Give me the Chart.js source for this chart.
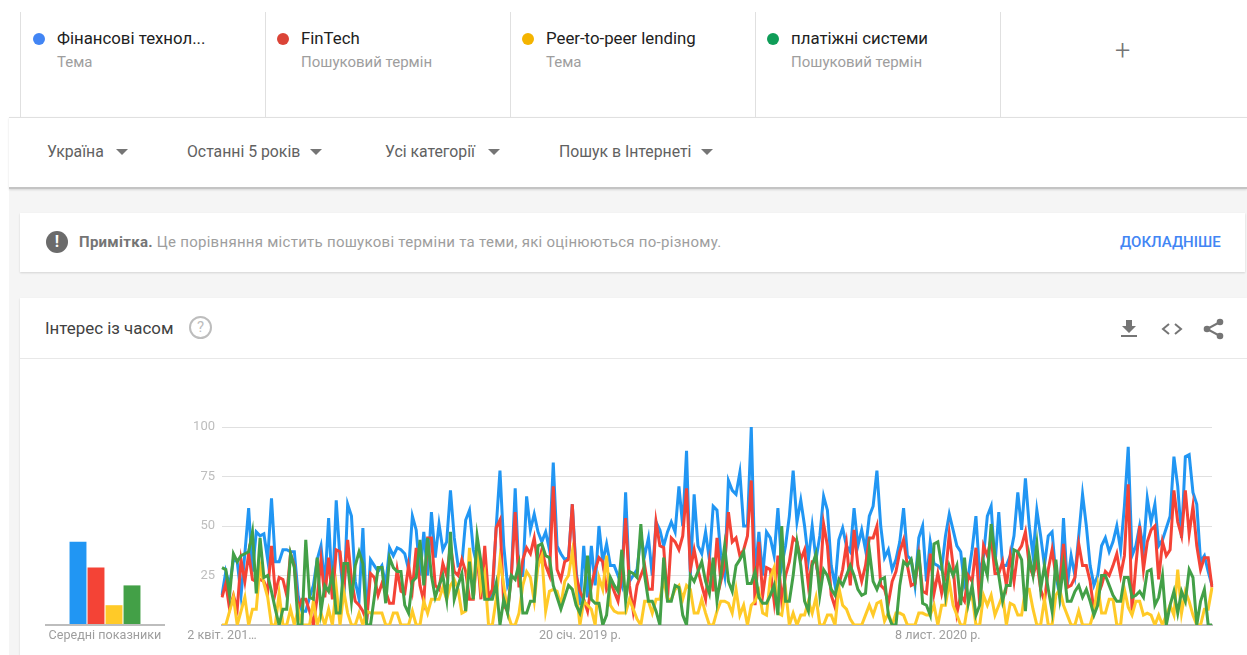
<!DOCTYPE html>
<html lang="uk">
<head>
<meta charset="utf-8">
<title>Інтерес із часом</title>
<script src="https://cdn.jsdelivr.net/npm/chart.js@4"></script>
<style>
    html, body { margin: 0; padding: 0; background: #fff; }
    body { width: 1247px; height: 655px; position: relative; overflow: hidden; font-family: Roboto, sans-serif; }
    .abs { position: absolute; white-space: nowrap; }
    #grey { left: 9px; top: 187px; width: 1238px; height: 468px; background: #f5f5f5; }
    #filterBar { left: 9px; top: 117px; width: 1238px; height: 69px; background: #fff; border-top: 1px solid #e0e0e0; border-bottom: 2px solid #c4c4c4; box-shadow: 0 1px 2px rgba(0,0,0,.12); }
    .sep { top: 12px; width: 1px; height: 105px; background: #e0e0e0; }
    .dot { width: 12px; height: 12px; border-radius: 50%; top: 33px; }
    .term { top: 28px; font-size: 16.8px; line-height: 20px; color: #212121; }
    .kind { top: 54px; font-size: 15px; line-height: 17px; color: #9e9e9e; }
    .filter { top: 143px; font-size: 15.8px; line-height: 18px; color: #616161; }
    .tri { top: 149px; width: 0; height: 0; border-left: 6px solid transparent; border-right: 6px solid transparent; border-top: 6px solid #757575; }
    .card { background: #fff; box-shadow: 0 1px 2px rgba(0,0,0,.14); }
    canvas { position: absolute; display: block; }
</style>
</head>
<body>
<div class="abs" id="grey"></div>
<div class="abs" id="filterBar"></div>

<div class="abs sep" style="left:20px"></div>
<div class="abs sep" style="left:265px"></div>
<div class="abs sep" style="left:510px"></div>
<div class="abs sep" style="left:755px"></div>
<div class="abs sep" style="left:1000px"></div>

<div class="abs dot" style="left:33px;background:#4285f4"></div>
<div class="abs term" style="left:57px">Фінансові технол...</div>
<div class="abs kind" style="left:57px">Тема</div>
<div class="abs dot" style="left:277px;background:#db4437"></div>
<div class="abs term" style="left:301px">FinTech</div>
<div class="abs kind" style="left:301px">Пошуковий термін</div>
<div class="abs dot" style="left:522px;background:#f4b400"></div>
<div class="abs term" style="left:546px">Peer-to-peer lending</div>
<div class="abs kind" style="left:546px">Тема</div>
<div class="abs dot" style="left:767px;background:#0f9d58"></div>
<div class="abs term" style="left:791px">платіжні системи</div>
<div class="abs kind" style="left:791px">Пошуковий термін</div>
<div class="abs" style="left:1115px;top:37px;font-size:27px;line-height:28px;font-weight:300;color:#757575">+</div>

<div class="abs filter" style="left:47px">Україна</div><div class="abs tri" style="left:116px"></div>
<div class="abs filter" style="left:187px">Останні 5 років</div><div class="abs tri" style="left:310px"></div>
<div class="abs filter" style="left:385px">Усі категорії</div><div class="abs tri" style="left:488px"></div>
<div class="abs filter" style="left:559px">Пошук в Інтернеті</div><div class="abs tri" style="left:701px"></div>

<div class="abs card" style="left:20px;top:213px;width:1225px;height:59px"></div>
<div class="abs" style="left:46px;top:231px;width:22px;height:22px;border-radius:50%;background:#6b6b6b;color:#fff;font-size:16px;font-weight:700;line-height:22px;text-align:center">!</div>
<div class="abs" style="left:79px;top:233px;font-size:15px;line-height:18px;color:#9e9e9e;letter-spacing:.27px"><b style="color:#757575">Примітка.</b> Це порівняння містить пошукові терміни та теми, які оцінюються по-різному.</div>
<div class="abs" style="left:1120px;top:233px;font-size:15px;line-height:18px;font-weight:500;color:#4285f4">ДОКЛАДНІШЕ</div>

<div class="abs card" style="left:20px;top:298px;width:1227px;height:357px"></div>
<div class="abs" style="left:20px;top:358px;width:1227px;height:1px;background:#e8e8e8"></div>
<div class="abs" style="left:45px;top:318px;font-size:16.9px;line-height:20px;color:#424242">Інтерес із часом</div>
<div class="abs" style="left:189px;top:316px;width:19px;height:19px;border:2px solid #bdbdbd;border-radius:50%;color:#bdbdbd;font-size:15px;line-height:19px;text-align:center">?</div>
<svg class="abs" style="left:1117px;top:317px" width="24" height="24" viewBox="0 0 24 24"><path fill="#757575" d="M19 9h-4V3H9v6H5l7 7 7-7zM4 18v2h16v-2H4z"/></svg>
<svg class="abs" style="left:1160px;top:317px" width="24" height="24" viewBox="0 0 24 24"><path fill="none" stroke="#757575" stroke-width="2" d="M9 7l-6 5 6 5M15 7l6 5-6 5"/></svg>
<svg class="abs" style="left:1202px;top:317px" width="24" height="24" viewBox="0 0 24 24"><path fill="none" stroke="#757575" stroke-width="2" d="M18 5L5 12l13 7"/><circle cx="18" cy="5" r="3.3" fill="#757575"/><circle cx="5" cy="12" r="3.3" fill="#757575"/><circle cx="18" cy="19" r="3.3" fill="#757575"/></svg>

<canvas id="avgChart" width="120" height="245" style="left:45px;top:410px"></canvas>
<div class="abs" style="left:45px;top:624px;width:120px;height:2px;background:#bdbdbd"></div>
<div class="abs" style="left:45px;top:627px;width:120px;text-align:center;font-size:12.6px;line-height:16px;color:#9e9e9e">Середні показники</div>
<canvas id="trendChart" width="1070" height="245" style="left:160px;top:410px"></canvas>

<script>
// weekly values, 2 Apr 2017 onwards
const fintechTopic = [
    15,27,20,33,32,15,36,59,27,47,
    45,46,33,64,32,32,38,38,37,37,
    15,7,7,14,20,33,40,20,54,15,
    63,33,13,61,55,22,13,49,3,33,
    30,27,30,20,39,35,39,38,36,28,
    55,48,25,47,25,57,34,51,38,42,
    68,44,30,31,53,58,38,30,22,18,
    14,14,49,78,40,20,25,69,25,25,
    65,48,56,47,42,47,38,82,40,36,
    33,34,61,28,10,40,14,40,20,50,
    32,41,30,30,25,20,67,22,25,28,
    45,35,44,25,52,48,40,47,52,47,
    70,50,88,25,66,40,36,47,33,60,
    58,35,25,73,68,66,77,50,50,100,
    25,47,25,47,44,35,59,30,40,55,
    78,52,63,50,33,50,33,45,65,58,
    30,20,43,49,40,37,59,40,48,38,
    55,60,78,50,34,38,28,33,42,59,
    35,33,20,44,50,22,42,31,30,28,
    45,56,48,40,37,20,25,38,55,25,
    35,55,60,30,57,30,30,35,45,67,
    48,74,50,35,58,45,30,45,47,25,
    15,54,20,35,25,45,66,50,30,20,
    25,40,44,37,42,50,38,60,90,35,
    40,50,38,64,52,61,40,43,49,55,
    85,70,44,85,86,67,61,32,35,27,
    20
];
const fintechTerm = [
    14,21,8,15,8,33,22,36,23,22,
    23,22,17,40,16,24,23,15,36,30,
    8,13,13,7,0,14,33,14,34,13,
    38,37,18,43,23,12,10,7,2,26,
    24,15,21,17,11,11,28,17,16,30,
    18,39,20,12,44,44,20,18,31,25,
    40,27,25,33,27,13,13,37,13,40,
    14,18,49,53,10,7,25,57,19,33,
    39,36,44,30,38,30,25,70,28,23,
    32,33,61,25,17,13,7,20,28,34,
    32,18,22,17,12,25,54,20,7,20,
    25,30,18,18,52,40,39,13,44,42,
    38,45,69,28,38,28,20,13,32,17,
    44,22,30,57,42,44,35,38,45,73,
    10,42,15,29,28,12,35,12,25,32,
    44,42,33,38,20,32,32,20,51,40,
    15,9,20,28,41,20,48,30,22,30,
    44,44,50,20,18,11,22,27,37,43,
    30,20,21,35,17,16,36,16,26,16,
    25,46,30,6,15,12,25,22,39,10,
    40,35,44,26,26,32,20,35,22,37,
    40,47,30,25,32,18,12,28,38,25,
    20,41,19,20,24,41,30,30,22,7,
    15,20,27,25,30,36,25,35,71,7,
    30,50,28,42,48,50,23,42,35,38,
    68,52,45,68,46,60,40,28,34,34,
    19
];
const p2pLending = [
    0,0,7,14,0,7,14,0,8,8,
    30,21,14,0,0,16,0,0,8,0,
    8,0,0,0,12,0,6,0,8,0,
    19,0,17,6,0,0,6,0,7,6,
    6,6,6,0,0,6,6,0,0,0,
    7,0,0,12,6,13,13,13,19,13,
    20,23,18,6,7,39,13,39,18,26,
    0,0,13,33,20,6,0,0,6,20,
    27,24,12,30,35,7,17,18,17,10,
    22,25,37,18,0,12,10,8,0,24,
    18,35,10,7,6,6,6,13,8,3,
    0,12,12,6,13,13,23,13,13,18,
    20,13,20,18,6,6,13,6,0,0,
    7,12,12,11,6,18,5,10,0,10,
    12,17,6,5,24,29,6,5,18,0,
    6,0,5,5,12,6,14,0,0,5,
    5,0,19,10,8,3,0,0,0,5,
    10,5,11,12,2,6,0,6,6,5,
    0,0,0,6,6,5,5,10,0,10,
    10,22,10,5,0,0,12,15,0,0,
    15,10,15,5,10,15,0,11,10,5,
    5,18,18,8,0,0,13,0,0,15,
    18,10,5,0,0,7,0,0,0,7,
    20,6,6,13,13,0,0,18,9,5,
    12,12,5,6,5,0,5,0,5,10,
    5,28,6,17,12,5,0,0,8,8,
    19
];
const paymentSystems = [
    29,28,15,36,32,35,36,37,47,16,
    44,24,25,17,8,0,8,8,36,29,
    0,0,43,14,13,34,7,20,17,26,
    6,6,31,31,12,30,37,31,0,0,
    14,29,29,11,34,29,27,27,10,6,
    22,24,43,20,44,25,14,20,25,13,
    47,13,20,26,7,32,13,45,32,13,
    13,13,21,0,13,6,25,23,31,6,
    6,12,12,40,41,35,34,20,14,8,
    14,20,18,10,6,14,35,13,11,11,
    0,5,24,20,17,38,12,27,26,24,
    51,25,12,12,7,0,34,12,12,20,
    19,5,0,25,22,27,32,22,16,34,
    12,25,40,22,17,30,33,37,21,21,
    27,14,11,11,15,20,5,50,12,12,
    25,42,30,12,7,30,36,15,28,25,
    18,15,23,20,25,30,25,18,15,16,
    38,22,18,23,24,5,0,0,20,32,
    30,33,22,38,11,10,5,41,42,30,
    15,30,25,30,10,34,11,20,5,10,
    32,25,51,35,25,12,20,20,38,37,
    33,7,35,25,41,18,30,18,7,33,
    14,30,12,12,17,20,14,18,12,5,
    10,25,25,20,15,12,12,24,24,14,
    15,17,14,27,28,10,14,25,0,10,
    17,6,17,12,28,24,0,12,18,0,
    0
];
const terms = ['Фінансові технології', 'FinTech', 'Peer-to-peer lending', 'платіжні системи'];
const averages = [42, 29, 10, 20];
const colors = ['#2196F3', '#F44336', '#FFCA28', '#43A047'];
const tickWeeks = [0, 94, 188];
const tickLabels = ['2 квіт. 201…', '20 січ. 2019 р.', '8 лист. 2020 р.'];
const yTicks = [25, 50, 75, 100];

const series = [fintechTopic, fintechTerm, p2pLending, paymentSystems];

new Chart(document.getElementById('trendChart'), {
    type: 'line',
    data: {
        labels: fintechTopic.map((v, i) => i),
        datasets: series.map((values, i) => ({
            label: terms[i],
            data: values,
            borderColor: colors[i],
            borderWidth: 3,
            pointRadius: 0,
            tension: 0,
            order: series.length - i // green goes on top
        }))
    },
    options: {
        responsive: false,
        animation: false,
        layout: { padding: { top: 17, right: 18 } },
        plugins: { legend: { display: false }, tooltip: { enabled: false } },
        scales: {
            x: {
                grid: { display: false, drawTicks: false },
                border: { color: '#bdbdbd', width: 2 },
                afterFit: scale => { scale.height = 30; },
                ticks: {
                    autoSkip: false,
                    maxRotation: 0,
                    minRotation: 0,
                    padding: 3,
                    color: '#9e9e9e',
                    font: { family: 'Roboto', size: 12.6 },
                    callback: (value, index) => {
                        const pos = tickWeeks.indexOf(index);
                        return pos >= 0 ? tickLabels[pos] : '';
                    }
                }
            },
            y: {
                min: 0,
                max: 100,
                afterFit: scale => { scale.width = 62; },
                afterBuildTicks: scale => { scale.ticks = [0].concat(yTicks).map(v => ({ value: v })); },
                grid: { color: '#e0e0e0', drawTicks: false },
                border: { display: false },
                ticks: {
                    padding: 7,
                    color: '#bdbdbd',
                    font: { family: 'Roboto', size: 13 },
                    callback: value => (value === 0 ? '' : value)
                }
            }
        }
    }
});

new Chart(document.getElementById('avgChart'), {
    type: 'bar',
    data: {
        labels: terms,
        datasets: [{ data: averages, backgroundColor: colors, barPercentage: 0.94, categoryPercentage: 1 }]
    },
    options: {
        responsive: false,
        animation: false,
        layout: { padding: { top: 17, left: 24, right: 24 } },
        plugins: { legend: { display: false }, tooltip: { enabled: false } },
        scales: {
            x: {
                grid: { display: false },
                border: { display: false },
                ticks: { display: false },
                afterFit: scale => { scale.height = 30; }
            },
            y: {
                display: false,
                min: 0,
                max: 100
            }
        }
    }
});
</script>
</body>
</html>
